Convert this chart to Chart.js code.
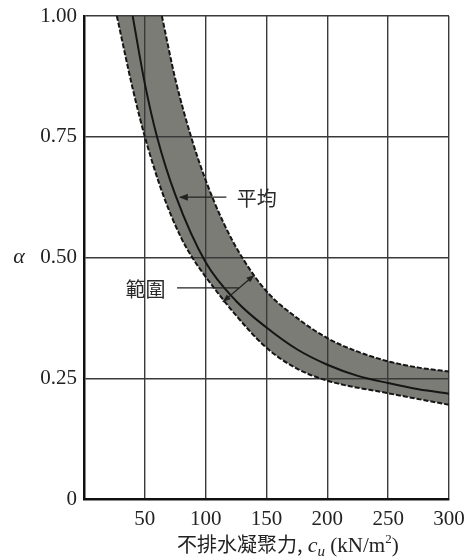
<!DOCTYPE html>
<html><head><meta charset="utf-8">
<script src="https://cdn.jsdelivr.net/npm/chart.js@4/dist/chart.umd.min.js"></script>
<style>html,body{margin:0;padding:0;background:#fff}#wrap{width:465px;height:559px}</style>
</head><body><div id="wrap"><canvas id="c" width="465" height="559"></canvas></div>
<script>
// ---- data ----
const xTickLabels = ['', '50', '100', '150', '200', '250', '300'];
const yTickLabels = ['0', '0.25', '0.50', '0.75', '1.00'];

const cuUpper    = [64, 75, 88, 100, 115, 130, 150, 175, 200, 225, 250, 275, 300];
const alphaUpper = [1.00, 0.87, 0.75, 0.66, 0.57, 0.50, 0.43, 0.375, 0.333, 0.305, 0.285, 0.272, 0.264];

const cuMean     = [40, 50, 60, 75, 100, 125, 150, 175, 200, 225, 250, 275, 300];
const alphaMean  = [1.00, 0.86, 0.75, 0.63, 0.49, 0.41, 0.355, 0.31, 0.278, 0.255, 0.24, 0.227, 0.218];

const cuLower    = [27, 40, 50, 65, 80, 89, 100, 125, 150, 175, 200, 250, 300];
const alphaLower = [1.00, 0.85, 0.75, 0.63, 0.54, 0.50, 0.46, 0.38, 0.313, 0.27, 0.245, 0.219, 0.195];

const labelMean  = '平均';
const labelRange = '範圍';
const yTitle = 'α';

// ---- helpers ----
const pts = (xs, ys) => xs.map((x, i) => ({x, y: ys[i]}));
const SERIF = "'Liberation Serif', 'DejaVu Serif', serif";
const CJK = "'Noto Sans CJK TC', 'Noto Sans CJK SC', sans-serif";

const bandPlugin = {
  id: 'band',
  beforeDraw(chart) {
    const area = chart.chartArea;
    const up = chart.getDatasetMeta(0).dataset;
    const lo = chart.getDatasetMeta(2).dataset;
    if (!up || !lo) return;
    up.updateControlPoints(area, 'x');
    lo.updateControlPoints(area, 'x');
    const ctx = chart.ctx;
    ctx.save();
    ctx.beginPath();
    ctx.rect(area.left, area.top, area.width, area.height);
    ctx.clip();
    ctx.beginPath();
    lo.pathSegment(ctx, lo.segments[0], {move: true});
    up.pathSegment(ctx, up.segments[0], {move: false, reverse: true});
    ctx.closePath();
    ctx.fillStyle = '#7c7c76';
    ctx.fill();
    ctx.restore();
  }
};

function arrowHead(ctx, x1, y1, x2, y2, len, wid) {
  const a = Math.atan2(y2 - y1, x2 - x1);
  ctx.beginPath();
  ctx.moveTo(x2, y2);
  ctx.lineTo(x2 - len * Math.cos(a) + wid * Math.sin(a), y2 - len * Math.sin(a) - wid * Math.cos(a));
  ctx.lineTo(x2 - len * Math.cos(a) - wid * Math.sin(a), y2 - len * Math.sin(a) + wid * Math.cos(a));
  ctx.closePath();
  ctx.fill();
}

const annoPlugin = {
  id: 'anno',
  afterDatasetsDraw(chart) {
    const ctx = chart.ctx;
    const xs = chart.scales.x, ys = chart.scales.y;
    const X = v => xs.getPixelForValue(v), Y = v => ys.getPixelForValue(v);
    ctx.save();
    ctx.strokeStyle = '#222';
    ctx.fillStyle = '#222';
    ctx.lineWidth = 1.3;
    // 平均 arrow
    const ay = Y(0.625);
    ctx.beginPath(); ctx.moveTo(X(117), ay); ctx.lineTo(X(79), ay); ctx.stroke();
    arrowHead(ctx, X(117), ay, X(78), ay, 9, 3.5);
    // 範圍 leader + double arrow
    const ry = Y(0.437);
    ctx.beginPath(); ctx.moveTo(X(76.5), ry); ctx.lineTo(X(127), ry); ctx.stroke();
    const p1 = [X(114), Y(0.408)], p2 = [X(140), Y(0.464)];
    ctx.beginPath(); ctx.moveTo(p1[0], p1[1]); ctx.lineTo(p2[0], p2[1]); ctx.stroke();
    arrowHead(ctx, p1[0], p1[1], p2[0], p2[1], 8, 3);
    arrowHead(ctx, p2[0], p2[1], p1[0], p1[1], 8, 3);
    // labels
    ctx.fillStyle = '#2a2a2a';
    ctx.font = '20px ' + CJK;
    ctx.textBaseline = 'middle';
    ctx.textAlign = 'left';
    ctx.fillText(labelMean, X(125.5), ay + 1);
    ctx.textAlign = 'right';
    ctx.fillText(labelRange, X(67), ry + 1);
    ctx.restore();
  },
  afterDraw(chart) {
    const ctx = chart.ctx;
    const area = chart.chartArea;
    ctx.save();
    ctx.fillStyle = '#222';
    // y title (horizontal alpha)
    ctx.font = 'italic 22px ' + SERIF;
    ctx.textAlign = 'center';
    ctx.textBaseline = 'middle';
    ctx.fillText(yTitle, 19, chart.scales.y.getPixelForValue(0.5));
    // x title with italic c and subscript u
    ctx.textAlign = 'left';
    ctx.textBaseline = 'alphabetic';
    const base = area.bottom + 53;
    let x = area.left + 93;
    const parts = [
      ['不排水凝聚力,', '20px ' + CJK, 0],
      [' ', '21px ' + SERIF, 0],
      ['c', 'italic 22px ' + SERIF, 0],
      ['u', 'italic 15px ' + SERIF, 4],
      [' (kN/m', '21px ' + SERIF, 0],
      ['2', '13px ' + SERIF, -9],
      [')', '21px ' + SERIF, 0]
    ];
    for (const [t, f, dy] of parts) {
      ctx.font = f;
      ctx.fillText(t, x, base + dy);
      x += ctx.measureText(t).width;
    }
    ctx.restore();
  }
};

const lineBase = {
  pointRadius: 0, pointHoverRadius: 0,
  borderColor: '#151515', borderWidth: 2,
  cubicInterpolationMode: 'monotone', fill: false
};

new Chart(document.getElementById('c'), {
  type: 'line',
  data: {
    datasets: [
      Object.assign({label: 'upper', data: pts(cuUpper, alphaUpper), borderDash: [5, 2]}, lineBase),
      Object.assign({label: labelMean, data: pts(cuMean, alphaMean)}, lineBase),
      Object.assign({label: 'lower', data: pts(cuLower, alphaLower), borderDash: [5, 2]}, lineBase)
    ]
  },
  options: {
    responsive: false,
    animation: false,
    devicePixelRatio: 1,
    layout: {padding: {left: 0, top: 16, right: 16, bottom: 0}},
    plugins: {legend: {display: false}, tooltip: {enabled: false}},
    scales: {
      x: {
        type: 'linear', min: 0, max: 300,
        ticks: {
          stepSize: 50, padding: 8, color: '#222', maxRotation: 0,
          font: {family: SERIF, size: 21},
          callback: (v) => xTickLabels[Math.round(v / 50)]
        },
        grid: {color: '#3a3a3a', lineWidth: 1.4, drawTicks: false},
        border: {display: true, color: '#111', width: 2.5},
        afterFit: (s) => { s.height = 60; s.paddingLeft = 0; s.paddingRight = 0; }
      },
      y: {
        type: 'linear', min: 0, max: 1,
        ticks: {
          stepSize: 0.25, padding: 7, color: '#222',
          font: {family: SERIF, size: 21},
          callback: (v) => yTickLabels[Math.round(v / 0.25)]
        },
        grid: {color: '#3a3a3a', lineWidth: 1.4, drawTicks: false},
        border: {display: true, color: '#111', width: 2.5},
        afterFit: (s) => { s.width = 84; s.paddingTop = 0; s.paddingBottom = 0; }
      }
    }
  },
  plugins: [bandPlugin, annoPlugin]
});
</script>
</body></html>
